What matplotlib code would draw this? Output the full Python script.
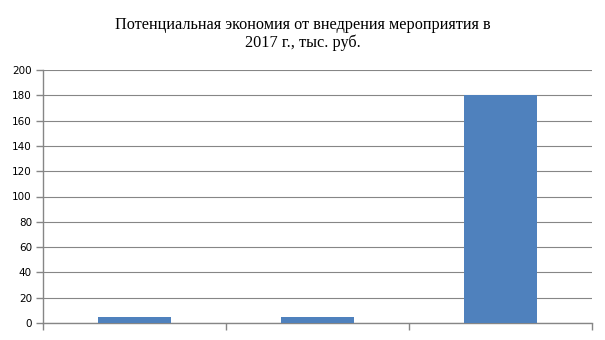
import numpy as np
import matplotlib.pyplot as plt

# data (category labels are blank in the source)
categories = ['', '', '']
values = [5, 5, 180]
yticks = [0, 20, 40, 60, 80, 100, 120, 140, 160, 180, 200]

bar_color = '#4f81bd'
grid_color = '#868686'

fig = plt.figure(figsize=(6.05, 3.4), dpi=100)
ax = fig.add_axes([43 / 605, 1 - 323 / 340, (592 - 43) / 605, (323 - 70) / 340])

x = np.arange(len(categories))
ax.bar(x, values, width=0.4, color=bar_color, zorder=3)

ax.set_xlim(-0.5, len(categories) - 0.5)
ax.set_ylim(0, 200)
ax.set_yticks(yticks)
ax.set_yticklabels([str(v) for v in yticks], family='DejaVu Sans', fontsize=7.5)
ax.set_xticks(x)
ax.set_xticklabels(categories)
# tick marks at category boundaries
ax.set_xticks(np.arange(len(categories) + 1) - 0.5, minor=True)
ax.tick_params(axis='x', which='major', length=0)
ax.tick_params(axis='x', which='minor', length=5, color=grid_color, width=1)
ax.tick_params(axis='y', length=5, color=grid_color, width=1, pad=3)

ax.grid(axis='y', color=grid_color, linewidth=0.8, zorder=0)
for side in ['top', 'right']:
    ax.spines[side].set_visible(False)
for side in ['left', 'bottom']:
    ax.spines[side].set_color(grid_color)
    ax.spines[side].set_linewidth(1)

fig.text(0.5, 1 - 34 / 340,
         'Потенциальная экономия от внедрения мероприятия в\n2017 г., тыс. руб.',
         ha='center', va='center', family='Liberation Serif', fontsize=11.7,
         linespacing=1.1)

fig.savefig('out.png', dpi=100, facecolor='white')
